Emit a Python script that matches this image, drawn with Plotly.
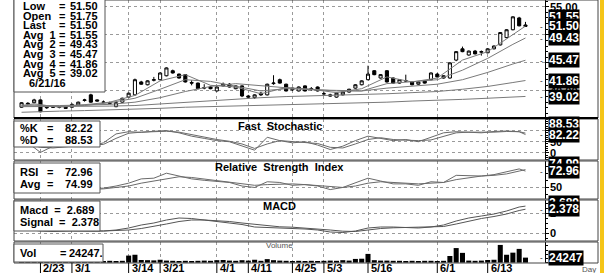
import plotly.graph_objects as go

W, H = 609, 273

# ---------------- data ----------------
tick_labels = ["2/23", "3/1", "3/14", "3/21", "4/1", "4/11", "4/25", "5/3", "5/16", "6/1", "6/13"]
tick_pos = [3, 8, 17, 22, 31, 36, 43, 48, 55, 66, 74]

opens = [37.1, 37.8, 37.9, 38.4, 37.0, 37.3, 37.1, 37.1, 37.1, 37.5, 38.3, 39.3, 38.4, 38.0, 37.9, 37.2,
         38.0, 38.9, 39.3, 41.6, 41.1, 41.9, 42.0, 42.7, 43.6, 43.0, 42.9, 41.5, 41.4, 40.5, 40.7, 40.0,
         40.9, 41.2, 40.4, 40.9, 39.1, 38.8, 39.6, 39.3, 41.3, 42.0, 41.2, 40.2, 40.0, 40.9, 40.4, 40.7,
         39.5, 39.3, 38.9, 39.3, 39.8, 40.5, 41.1, 42.0, 43.6, 42.3, 43.6, 42.3, 41.4, 41.8, 41.6, 41.2,
         41.8, 42.0, 43.0, 42.3, 42.3, 45.5, 47.5, 46.4, 47.1, 46.9, 46.8, 47.5, 48.2, 49.5, 50.9, 53.0, 51.75]
highs = [38.0, 38.0, 38.6, 38.5, 37.3, 37.4, 37.3, 37.2, 37.8, 38.1, 38.6, 39.5, 38.5, 38.3, 38.1, 38.0,
         38.8, 39.7, 42.2, 41.8, 41.9, 42.5, 43.3, 44.2, 43.8, 43.1, 43.0, 41.9, 41.5, 41.2, 40.9, 40.8,
         41.5, 41.4, 41.0, 41.0, 39.3, 39.4, 39.8, 41.3, 42.8, 42.2, 41.3, 40.6, 40.8, 41.0, 40.7, 40.8,
         39.8, 39.5, 39.7, 39.9, 40.4, 41.2, 41.9, 44.5, 43.7, 43.0, 43.7, 42.4, 42.1, 42.9, 41.7, 41.7,
         41.9, 43.3, 43.2, 42.8, 45.1, 47.1, 47.9, 47.2, 47.3, 47.2, 47.6, 48.1, 50.5, 51.0, 53.3, 53.2, 52.3]
lows = [37.0, 37.5, 37.8, 36.2, 36.8, 37.0, 36.9, 36.8, 37.0, 37.4, 38.1, 37.9, 38.1, 37.8, 37.6, 37.1,
        37.9, 38.8, 39.2, 41.1, 41.0, 41.7, 41.9, 42.6, 43.1, 42.2, 41.5, 41.0, 40.3, 40.3, 40.3, 39.9,
        40.8, 40.6, 40.3, 38.9, 38.8, 38.6, 39.1, 39.2, 41.1, 41.3, 39.9, 40.0, 39.9, 39.9, 40.0, 39.9,
        39.3, 39.0, 38.8, 39.2, 39.7, 40.4, 41.0, 41.9, 42.8, 42.2, 41.5, 41.3, 41.3, 41.6, 41.0, 41.1,
        41.3, 41.9, 42.4, 42.2, 42.2, 45.3, 46.9, 46.3, 46.5, 46.3, 46.7, 47.4, 48.1, 49.4, 50.8, 51.5, 51.5]
closes = [37.9, 37.7, 38.4, 36.3, 37.1, 37.1, 37.1, 36.9, 37.6, 38.0, 38.4, 38.0, 38.2, 38.0, 37.8, 37.9,
          38.7, 39.6, 42.0, 41.2, 41.8, 42.0, 43.2, 44.1, 43.2, 42.3, 41.6, 41.4, 40.4, 40.6, 40.4, 40.7,
          41.2, 40.7, 40.9, 39.1, 38.9, 39.3, 39.3, 41.2, 41.4, 41.4, 40.0, 40.5, 40.7, 40.0, 40.3, 40.0,
          39.5, 39.1, 39.6, 39.8, 40.3, 41.1, 41.8, 43.0, 42.9, 42.9, 41.6, 41.4, 42.0, 41.8, 41.1, 41.6,
          41.4, 43.2, 42.5, 42.7, 45.0, 47.0, 47.0, 47.1, 46.6, 47.0, 47.5, 48.0, 50.4, 50.9, 53.2, 51.6, 51.5]
volume = [9000, 8000, 10000, 12000, 8000, 9000, 8000, 9000, 10000, 19000, 12000, 13000, 9000, 8000, 9000, 8000,
          9000, 34000, 38000, 13000, 12000, 11000, 14000, 10000, 9000, 8000, 9000, 8000, 9000, 10000, 9000, 12000,
          13000, 10000, 9000, 12000, 10000, 14000, 9000, 17000, 12000, 10000, 9000, 8000, 9000, 8000, 9000, 8000,
          9000, 10000, 9000, 12000, 10000, 18000, 19000, 42000, 12000, 10000, 10000, 9000, 9000, 8000, 9000, 8000,
          9000, 9000, 8000, 9000, 32000, 70000, 47000, 10000, 9000, 10000, 13000, 14000, 85000, 38000, 48000, 66000, 24247]
n = len(closes)
assert len(opens) == n and len(highs) == n and len(lows) == n and len(volume) == n
days = list(range(n))

ma_x = [0, 2, 6, 10, 14, 18, 22, 26, 30, 34, 38, 42, 46, 50, 54, 58, 62, 66, 70, 74, 78, 80]
avg1 = [37.4, 37.7, 37.1, 37.6, 38.0, 39.2, 41.8, 42.9, 41.0, 40.7, 39.5, 40.6, 40.3, 39.7, 40.4, 42.5, 41.6, 42.3, 45.5, 47.0, 50.0, 51.55]
avg2 = [37.4, 37.5, 37.3, 37.4, 37.9, 38.7, 40.3, 42.0, 41.7, 40.9, 40.0, 40.4, 40.3, 40.0, 40.0, 41.3, 41.7, 42.0, 43.7, 45.8, 48.3, 49.43]
avg3 = [37.3, 37.3, 37.4, 37.5, 37.6, 38.0, 38.8, 39.9, 40.8, 41.3, 40.9, 40.5, 40.2, 40.1, 40.0, 40.5, 40.9, 41.2, 42.0, 43.3, 44.8, 45.47]
avg4 = [37.2, 37.2, 37.2, 37.2, 37.3, 37.4, 37.7, 38.0, 38.3, 38.6, 38.8, 39.0, 39.1, 39.2, 39.3, 39.5, 39.7, 39.9, 40.3, 40.8, 41.5, 41.86]
avg5 = [36.2, 36.3, 36.4, 36.5, 36.6, 36.7, 36.9, 37.1, 37.2, 37.3, 37.4, 37.6, 37.7, 37.8, 37.9, 38.0, 38.2, 38.3, 38.5, 38.7, 38.9, 39.02]

ind_x = [0, 1, 3, 5, 8, 11, 13, 15, 17, 19, 21, 23, 25, 27, 29, 31, 33, 35, 37, 39, 41, 43, 45, 47, 49, 51,
         53, 55, 57, 59, 61, 63, 65, 67, 69, 71, 73, 75, 77, 79, 80]
stoch_k = [30, 45, 2, 30, 35, 30, 45, 85, 95, 92, 97, 100, 90, 75, 65, 55, 50, 30, 12, 70, 55, 45, 50, 35, 15, 30,
           55, 75, 65, 55, 60, 50, 70, 90, 95, 92, 90, 96, 98, 95, 82.22]
stoch_d = [35, 40, 25, 22, 30, 33, 38, 65, 88, 93, 95, 97, 93, 82, 70, 60, 52, 40, 20, 40, 55, 50, 48, 42, 25, 22,
           40, 60, 68, 60, 57, 55, 58, 75, 90, 93, 92, 93, 96, 95, 88.53]
rsi = [48, 49, 43, 46, 48, 48, 49, 52, 56, 62, 63, 70, 66, 62, 60, 58, 57, 52, 50, 58, 57, 53, 54, 52, 47, 50,
       56, 63, 59, 55, 55, 53, 58, 57, 67, 67, 66, 68, 72, 76, 72.96]
rsi_avg = [48, 48, 47, 46, 47, 48, 48, 50, 52, 56, 59, 63, 65, 64, 62, 60, 58, 56, 53, 54, 55, 55, 54, 53, 51, 50,
           52, 56, 58, 57, 56, 55, 56, 57, 61, 64, 66, 67, 69, 73, 74.99]
macd = [0.3, 0.35, 0.2, 0.15, 0.2, 0.2, 0.2, 0.3, 0.5, 0.8, 1.0, 1.3, 1.5, 1.45, 1.3, 1.1, 1.0, 0.85, 0.6, 0.55,
        0.55, 0.5, 0.4, 0.3, 0.1, 0.05, 0.2, 0.5, 0.6, 0.6, 0.55, 0.5, 0.6, 0.8, 1.2, 1.5, 1.7, 1.9, 2.2, 2.6, 2.689]
signal = [0.35, 0.33, 0.3, 0.25, 0.2, 0.2, 0.2, 0.22, 0.3, 0.45, 0.65, 0.9, 1.15, 1.3, 1.3, 1.25, 1.15, 1.0, 0.85,
          0.7, 0.62, 0.58, 0.5, 0.42, 0.3, 0.18, 0.15, 0.3, 0.45, 0.52, 0.55, 0.53, 0.55, 0.65, 0.9, 1.2, 1.45,
          1.65, 1.9, 2.25, 2.378]

# ---------------- layout geometry (pixels) ----------------
X_L, X_R, BOX_R = 14, 545, 598
panels = {  # name: (top px, bottom px, y-range)
    "price": (0, 118, [35.18, 56.2]),
    "stoch": (119, 160, [-32, 152]),
    "rsi": (161, 199, [33.8, 87.1]),
    "macd": (200, 241, [-0.8, 3.3]),
    "vol": (242, 263, [-1500, 99000]),
}
order = ["price", "stoch", "rsi", "macd", "vol"]
XR = [-1.2, 83.1]
X_MID = (X_L + X_R) / 2

def px(p):
    return p / W

def py(p):
    return 1 - p / H

FONT = "Liberation Sans, Arial, sans-serif"
GRID = "#9a9a9a"
LINE = "#7a7a7a"

fig = go.Figure()

fig.add_trace(go.Candlestick(
    x=days, open=opens, high=highs, low=lows, close=closes,
    increasing=dict(line=dict(color="black", width=1), fillcolor="white"),
    decreasing=dict(line=dict(color="black", width=1), fillcolor="black"),
    whiskerwidth=0, xaxis="x", yaxis="y", showlegend=False, hoverinfo="skip"))
for ser in [avg5, avg4, avg3, avg2, avg1]:
    fig.add_trace(go.Scatter(x=ma_x, y=ser, mode="lines", line=dict(color=LINE, width=1),
                             xaxis="x", yaxis="y", showlegend=False, hoverinfo="skip"))
for ser in [stoch_d, stoch_k]:
    fig.add_trace(go.Scatter(x=ind_x, y=ser, mode="lines", line=dict(color="#6a6a6a", width=1),
                             xaxis="x2", yaxis="y2", showlegend=False, hoverinfo="skip"))
for ser in [rsi_avg, rsi]:
    fig.add_trace(go.Scatter(x=ind_x, y=ser, mode="lines", line=dict(color="#6a6a6a", width=1),
                             xaxis="x3", yaxis="y3", showlegend=False, hoverinfo="skip"))
for ser in [signal, macd]:
    fig.add_trace(go.Scatter(x=ind_x, y=ser, mode="lines", line=dict(color="#555555", width=1),
                             xaxis="x4", yaxis="y4", showlegend=False, hoverinfo="skip"))
fig.add_trace(go.Bar(x=days, y=volume, marker=dict(color="black", line=dict(width=0)), width=0.8,
                     xaxis="x5", yaxis="y5", showlegend=False, hoverinfo="skip"))

layout = dict(width=W, height=H, margin=dict(l=0, r=0, t=0, b=0), paper_bgcolor="white",
              plot_bgcolor="white", showlegend=False, bargap=0.2)

ygrids = {
    "price": [40, 45, 50, 55],
    "stoch": [0, 50, 100],
    "rsi": [50],
    "macd": [0, 2],
    "vol": [],
}
minor_dt = {"price": 1, "stoch": 10, "rsi": 10, "macd": 0.5, "vol": 20000}
for k, name in enumerate(order):
    top, bot, yr = panels[name]
    sfx = "" if k == 0 else str(k + 1)
    layout["xaxis" + sfx] = dict(domain=[px(X_L), px(X_R)], range=XR, anchor="y" + sfx,
                                 tickvals=tick_pos, showticklabels=False, ticks="",
                                 showgrid=True, gridcolor=GRID, griddash="dot", gridwidth=1,
                                 zeroline=False, showline=False, rangeslider=dict(visible=False),
                                 fixedrange=True)
    layout["yaxis" + sfx] = dict(domain=[py(bot), py(top)], range=yr, anchor="x" + sfx, side="right",
                                 tickvals=ygrids[name], showticklabels=False, ticks="outside", ticklen=3,
                                 tickcolor="black",
                                 minor=dict(dtick=minor_dt[name], ticks="outside", ticklen=2, tickcolor="black",
                                            showgrid=False),
                                 showgrid=True, gridcolor=GRID, griddash="dot", gridwidth=1,
                                 zeroline=False, showline=True, linecolor="black", linewidth=1,
                                 fixedrange=True)

shapes = []
for name in order:
    top, bot, _ = panels[name]
    shapes.append(dict(type="rect", xref="paper", yref="paper", x0=px(X_L), x1=px(BOX_R),
                       y0=py(bot), y1=py(top), line=dict(color="#444", width=1)))
shapes.append(dict(type="line", xref="paper", yref="paper", x0=px(X_L), x1=px(BOX_R), y0=py(118), y1=py(118),
                   line=dict(color="black", width=2)))
shapes.append(dict(type="rect", xref="paper", yref="paper", x0=px(600), x1=px(604), y0=0, y1=1,
                   fillcolor="#f5c518", line=dict(width=0)))
for t in tick_pos:
    shapes.append(dict(type="line", xref="x5", yref="paper", x0=t, x1=t, y0=0, y1=py(263),
                       line=dict(color="black", width=1)))

boxes = [(14, -4, 105, 92), (14, 121, 100, 147), (14, 163, 100, 193), (14, 201, 100, 231), (14, 244, 103, 262)]
for (x0, y0, x1, y1) in boxes:
    shapes.append(dict(type="rect", xref="paper", yref="paper", x0=px(x0), x1=px(x1), y0=py(y1), y1=py(y0),
                       fillcolor="white", line=dict(color="#555", width=1), layer="above"))
layout["shapes"] = shapes

ann = []

def txt(x, y, s, size=11, anchor="left", color="black", bold=True):
    ann.append(dict(xref="paper", yref="paper", x=px(x), y=py(y), text=s, showarrow=False,
                    xanchor=anchor, yanchor="middle",
                    font=dict(family=FONT, size=size, color=color, weight=700 if bold else 400)))

price_rows = [("Low", "51.50"), ("Open", "51.75"), ("Last", "51.50"), ("Avg  1", "51.55"),
              ("Avg  2", "49.43"), ("Avg  3", "45.47"), ("Avg  4", "41.86"), ("Avg  5", "39.02")]
for r, (lab, val) in enumerate(price_rows):
    yy = 6 + r * 9.6
    txt(21, yy, lab)
    txt(62, yy, "=", anchor="center")
    txt(100, yy, val, anchor="right")
txt(27, 83, "6/21/16")
txt(18, 128, "%K"); txt(50, 128, "=", anchor="center"); txt(95, 128, "82.22", anchor="right")
txt(18, 140, "%D"); txt(50, 140, "=", anchor="center"); txt(95, 140, "88.53", anchor="right")
txt(18, 172, "RSI"); txt(50, 172, "=", anchor="center"); txt(95, 172, "72.96", anchor="right")
txt(18, 184, "Avg"); txt(50, 184, "=", anchor="center"); txt(95, 184, "74.99", anchor="right")
txt(18, 210, "Macd  =  2.689")
txt(18, 222, "Signal  =  2.378")
txt(18, 253, "Vol"); txt(58, 253, "="); txt(67, 253, "24247.")

txt(X_MID, 126, "Fast  Stochastic", anchor="center")
txt(X_MID, 167, "Relative  Strength  Index", anchor="center")
txt(X_MID, 206, "MACD", anchor="center")
txt(X_MID, 245, "Volume", size=8, anchor="center", color="#555", bold=False)
txt(580, 269, "Day", size=8, anchor="left", color="#555", bold=False)

for t, lab in zip(tick_pos, tick_labels):
    ann.append(dict(xref="x5", yref="paper", x=t, y=py(268), text=lab, showarrow=False, xanchor="left",
                    xshift=1, yanchor="middle", font=dict(family=FONT, size=11, color="black", weight=700)))

plain = [("y", 55, "55.00"), ("y", 40, "40.00"), ("y2", 50, "50"), ("y2", 0, "0"), ("y3", 50, "50"),
         ("y4", 2, "2"), ("y4", 0, "0")]
for yref, v, s in plain:
    ann.append(dict(xref="paper", yref=yref, x=px(548), y=v, text=s, showarrow=False, xanchor="left",
                    yanchor="middle", font=dict(family=FONT, size=11, color="black", weight=700)))
boxed = [("y", 51.55, "51.55", 9), ("y", 51.50, "51.50", 0), ("y", 49.43, "49.43", 0), ("y", 45.47, "45.47", 0),
         ("y", 41.86, "41.86", 0), ("y", 39.02, "39.02", -1), ("y2", 88.53, "88.53", 9), ("y2", 82.22, "82.22", 0),
         ("y3", 74.99, "74.99", 6), ("y3", 72.96, "72.96", 0), ("y4", 2.689, "2.689", 3), ("y4", 2.378, "2.378", 0),
         ("y5", 24247, "24247", 0)]
for yref, v, s, sh in boxed:
    ann.append(dict(xref="paper", yref=yref, x=px(548), y=v, yshift=sh, text=s, showarrow=False,
                    xanchor="left", yanchor="middle", bgcolor="black", borderpad=0,
                    font=dict(family=FONT, size=12, color="white", weight=700)))
# small last-value markers beside the value boxes
for yref, v in [("y", 51.50), ("y", 49.43), ("y", 45.47), ("y", 41.86), ("y", 39.02), ("y2", 82.22),
                ("y3", 72.96), ("y4", 2.378), ("y5", 24247)]:
    ann.append(dict(xref="paper", yref=yref, x=px(541), y=v, text="-", showarrow=False, xanchor="center",
                    yanchor="middle", font=dict(family=FONT, size=8, color="black")))
layout["annotations"] = ann

fig.update_layout(**layout)
fig.write_html("out.html", config={"displayModeBar": False, "staticPlot": True},
               post_script="document.body.style.margin='0';document.body.style.overflow='hidden';")
